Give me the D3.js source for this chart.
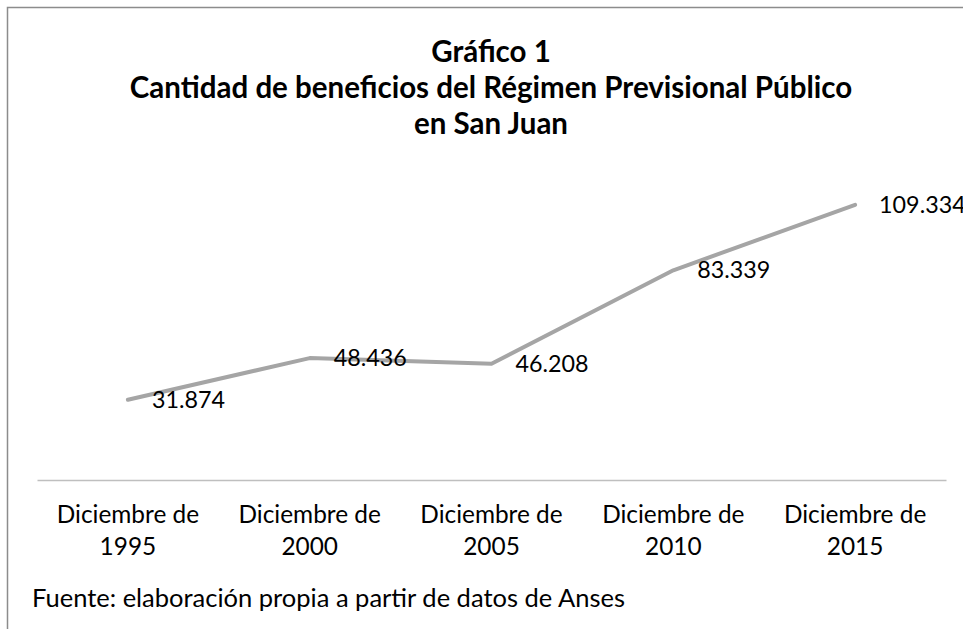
<!DOCTYPE html>
<html lang="es">
<head>
<meta charset="UTF-8">
<title>Gráfico 1</title>
<style>
    body { margin: 0; background: #fff; }
    svg { display: block; }
    text { font-family: Lato, "Open Sans", sans-serif; fill: #000; }
</style>
</head>
<body>
<script src="https://cdn.jsdelivr.net/npm/d3@7"></script>
<script>
    const W = 963, H = 629;

    // datos
    const periodos = ["1995", "2000", "2005", "2010", "2015"];
    const beneficios = [31874, 48436, 46208, 83339, 109334];
    const etiquetas = ["31.874", "48.436", "46.208", "83.339", "109.334"];
    const titulo = ["Gráfico 1", "Cantidad de beneficios del Régimen Previsional Público", "en San Juan"];
    const fuente = "Fuente: elaboración propia a partir de datos de Anses";

    const datos = periodos.map((p, i) => ({ periodo: p, valor: beneficios[i], etiqueta: etiquetas[i] }));

    const svg = d3.select("body").append("svg")
        .attr("width", W)
        .attr("height", H);

    // marco del gráfico (cortado a la derecha y abajo)
    svg.append("rect")
        .attr("x", 7.5).attr("y", 7.5)
        .attr("width", W + 20).attr("height", H + 20)
        .attr("fill", "none")
        .attr("stroke", "#8c8c8c")
        .attr("stroke-width", 1.5);

    // título
    svg.append("text")
        .attr("text-anchor", "middle")
        .style("font-weight", "bold")
        .style("font-size", "29.5px")
        .selectAll("tspan")
        .data(titulo)
        .join("tspan")
            .attr("x", 491)
            .attr("y", (d, i) => 62 + i * 36)
            .text(d => d);

    const x = d3.scaleBand()
        .domain(periodos)
        .range([37, 946]);

    const y = d3.scaleLinear()
        .domain([0, 120000])
        .range([480, 178]);

    // eje x
    const eje = svg.append("g")
        .attr("transform", `translate(0, ${y(0)})`)
        .call(d3.axisBottom(x).tickSize(0).tickPadding(0));

    eje.select(".domain")
        .attr("stroke", "#bfbfbf")
        .attr("stroke-width", 1.5);

    eje.selectAll(".tick text").each(function(d) {
        const t = d3.select(this)
            .attr("y", null).attr("dy", null)
            .style("font-family", "Lato, 'Open Sans', sans-serif")
            .style("font-size", "24.4px")
            .attr("fill", "#000")
            .text(null);
        t.append("tspan").attr("x", 0).attr("y", 43).text("Diciembre de");
        t.append("tspan").attr("x", 0).attr("y", 75).text(d);
    });

    const cx = d => x(d.periodo) + x.bandwidth() / 2;

    // línea
    const linea = d3.line()
        .x(cx)
        .y(d => y(d.valor));

    svg.append("path")
        .datum(datos)
        .attr("fill", "none")
        .attr("stroke", "#a5a5a5")
        .attr("stroke-width", 4)
        .attr("stroke-linejoin", "round")
        .attr("stroke-linecap", "round")
        .attr("d", linea);

    // etiquetas de datos
    svg.selectAll(".etiqueta")
        .data(datos)
        .join("text")
            .attr("class", "etiqueta")
            .attr("x", d => cx(d) + 24)
            .attr("y", d => y(d.valor) + 8)
            .style("font-size", "23.3px")
            .text(d => d.etiqueta);

    // fuente
    svg.append("text")
        .attr("x", 32)
        .attr("y", 607)
        .style("font-size", "25.5px")
        .text(fuente);
</script>
</body>
</html>
